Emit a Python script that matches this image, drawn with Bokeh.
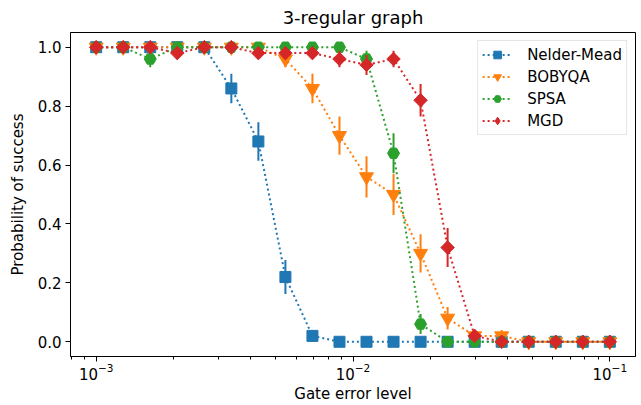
import math
from bokeh.plotting import figure
from bokeh.models import Legend, LegendItem, LogTicker, Range1d
from bokeh.embed import file_html
from bokeh.resources import INLINE

# gate error levels (20 points, 1e-3 .. 1e-1)
error_levels = [0.001, 0.0012743, 0.0016238, 0.0020691, 0.0026367, 0.0033598,
                0.0042813, 0.0054556, 0.0069519, 0.0088587, 0.011288, 0.014384,
                0.018330, 0.023357, 0.029764, 0.037927, 0.048329, 0.061585,
                0.078476, 0.1]

nm_vals = [1, 1, 1, 1, 1, 0.86, 0.68, 0.22, 0.02, 0, 0, 0, 0, 0, 0, 0, 0, 0, 0, 0]
nm_err = [0, 0, 0, 0, 0, 0.05, 0.065, 0.058, 0.02, 0, 0, 0, 0, 0, 0, 0, 0, 0, 0, 0]

bob_vals = [1, 1, 1, 1, 1, 1, 1, 0.96, 0.86, 0.70, 0.56, 0.50, 0.30, 0.08, 0.02, 0.02, 0, 0, 0, 0]
bob_err = [0, 0, 0, 0, 0, 0, 0, 0.028, 0.05, 0.065, 0.07, 0.07, 0.065, 0.038, 0.02, 0.02, 0, 0, 0, 0]

spsa_vals = [1, 1, 0.96, 1, 1, 1, 1, 1, 1, 1, 0.96, 0.64, 0.06, 0, 0, 0, 0, 0, 0, 0]
spsa_err = [0, 0, 0.028, 0, 0, 0, 0, 0, 0, 0, 0.028, 0.068, 0.034, 0, 0, 0, 0, 0, 0, 0]

mgd_vals = [1, 1, 1, 0.98, 1, 1, 0.98, 0.98, 0.98, 0.96, 0.94, 0.96, 0.82, 0.32, 0.02, 0, 0, 0, 0, 0]
mgd_err = [0, 0, 0, 0.02, 0, 0, 0.02, 0.02, 0.02, 0.028, 0.034, 0.028, 0.055, 0.066, 0.02, 0, 0, 0, 0, 0]

series_names = ["Nelder-Mead", "BOBYQA", "SPSA", "MGD"]
colors = ["#1f77b4", "#ff7f0e", "#2ca02c", "#d62728"]
y_ticks = [0.0, 0.2, 0.4, 0.6, 0.8, 1.0]

FONT = "DejaVu Sans"

p = figure(width=641, height=405, x_axis_type="log",
           output_backend="svg", toolbar_location=None,
           title="3-regular graph",
           x_range=Range1d(10 ** -3.1, 10 ** -0.9),
           y_range=Range1d(-0.05, 1.05),
           min_border_left=70, min_border_right=6,
           min_border_top=31, min_border_bottom=48)

p.background_fill_color = "white"
p.border_fill_color = "white"
p.outline_line_color = "black"
p.outline_line_width = 1
p.xgrid.visible = False
p.ygrid.visible = False

p.title.text_font = FONT
p.title.text_font_size = "18px"
p.title.text_font_style = "normal"
p.title.align = "center"
p.title.text_color = "black"
p.title.standoff = 9

p.xaxis.ticker = LogTicker(num_minor_ticks=10)
p.yaxis.ticker = y_ticks
p.yaxis.major_label_overrides = {t: f"{t:.1f}" for t in y_ticks}
for ax in (p.xaxis[0], p.yaxis[0]):
    ax.axis_line_color = "black"
    ax.major_tick_line_color = "black"
    ax.minor_tick_line_color = "black"
    ax.major_tick_in = 0
    ax.major_tick_out = 5
    ax.minor_tick_in = 0
    ax.minor_tick_out = 3
    ax.major_label_text_font = FONT
    ax.major_label_text_font_size = "15px"
    ax.major_label_text_color = "black"
    ax.axis_label_text_font = FONT
    ax.axis_label_text_font_size = "15px"
    ax.axis_label_text_font_style = "normal"
    ax.axis_label_text_color = "black"
p.xaxis.axis_label = "Gate error level"
p.yaxis.axis_label = "Probability of success"
p.xaxis.major_label_standoff = 1
p.xaxis.axis_label_standoff = 2
p.yaxis.major_label_standoff = 4
p.yaxis.axis_label_standoff = 8

all_vals = [nm_vals, bob_vals, spsa_vals, mgd_vals]
all_errs = [nm_err, bob_err, spsa_err, mgd_err]
# (marker, size, angle) for the plotted points
markers = [("square", 11, 0.0), ("inverted_triangle", 14, 0.0),
           ("hex", 12, 0.0), ("square", 9.5, math.pi / 4)]

items = []
for name, col, vals, errs, (mk, sz, ang) in zip(series_names, colors, all_vals, all_errs, markers):
    lo = [v - e for v, e in zip(vals, errs)]
    hi = [v + e for v, e in zip(vals, errs)]
    ln = p.line(error_levels, vals, line_color=col, line_width=2, line_dash="2 3")
    p.segment(x0=error_levels, y0=lo, x1=error_levels, y1=hi, line_color=col, line_width=2)
    if ang:
        # plain diamond under the rotated squares; used as the legend swatch
        sw = p.scatter(error_levels, vals, marker="diamond", size=13,
                       fill_color=col, line_color=col, line_width=1)
    sc = p.scatter(error_levels, vals, marker=mk, size=sz, angle=ang,
                   fill_color=col, line_color=col, line_width=1)
    if not ang:
        sw = sc
    items.append(LegendItem(label=name, renderers=[ln, sw]))

legend = Legend(items=items, location="top_right")
legend.label_text_font = FONT
legend.label_text_font_size = "15px"
legend.label_text_color = "black"
legend.glyph_width = 30
legend.glyph_height = 19
legend.label_height = 19
legend.label_standoff = 15
legend.spacing = 3
legend.padding = 4
legend.margin = 8
legend.border_line_color = "#cccccc"
legend.border_line_width = 1
legend.background_fill_alpha = 0.8
p.add_layout(legend)

open("out.html", "w").write(file_html(p, INLINE))
